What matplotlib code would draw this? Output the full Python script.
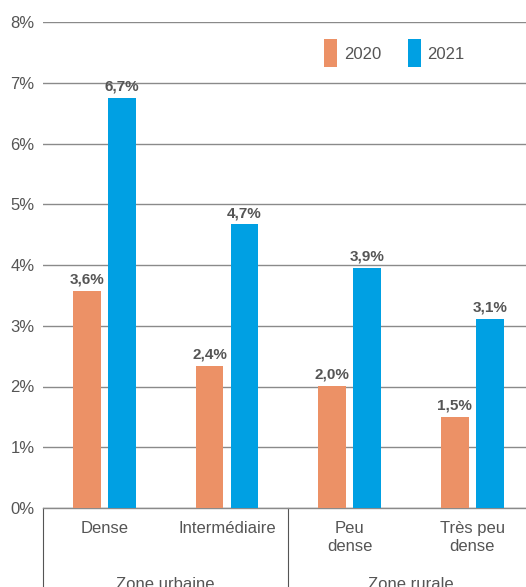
import numpy as np
import matplotlib
matplotlib.use("Agg")
import matplotlib.pyplot as plt
from matplotlib.transforms import blended_transform_factory

plt.rcParams['font.family'] = ['Liberation Sans Narrow', 'Liberation Sans', 'DejaVu Sans']

categories = ["Dense", "Intermédiaire", "Peu\ndense", "Très peu\ndense"]
groups = ["Zone urbaine", "Zone rurale"]
years = ["2020", "2021"]
vals_2020 = [3.57, 2.34, 2.01, 1.50]
vals_2021 = [6.75, 4.67, 3.95, 3.11]
labels_2020 = ["3,6%", "2,4%", "2,0%", "1,5%"]
labels_2021 = ["6,7%", "4,7%", "3,9%", "3,1%"]
yticks = [0, 1, 2, 3, 4, 5, 6, 7, 8]

c2020 = "#ec9166"
c2021 = "#00a0e3"
grey = "#555555"

fig = plt.figure(figsize=(5.26, 5.87), dpi=100)
ax = fig.add_axes([43 / 526, 1 - 508 / 587, 1 - 43 / 526, (508 - 22) / 587])

x = np.arange(len(categories)) + 0.5
w = 0.225
off = 0.143
b1 = ax.bar(x - off, vals_2020, w, color=c2020, label=years[0], zorder=3)
b2 = ax.bar(x + off, vals_2021, w, color=c2021, label=years[1], zorder=3)

for bars, labs in [(b1, labels_2020), (b2, labels_2021)]:
    for b, lab in zip(bars, labs):
        ax.text(b.get_x() + b.get_width() / 2, b.get_height() + 0.07, lab,
                ha="center", va="bottom", fontsize=11, fontweight="bold",
                color=grey, zorder=4)

ax.set_xlim(0, 3.937)
ax.set_ylim(0, 8)
ax.set_yticks(yticks)
ax.set_yticklabels([f"{t}%" for t in yticks])
ax.yaxis.grid(True, color="#8a8a8a", linewidth=1)
ax.set_axisbelow(True)
ax.tick_params(axis="y", length=0, pad=6, labelsize=12, labelcolor=grey)
ax.set_xticks([])
for s in ["top", "right", "left"]:
    ax.spines[s].set_visible(False)
ax.spines["bottom"].set_color("#8a8a8a")
ax.spines["bottom"].set_linewidth(1)

trans = blended_transform_factory(ax.transData, ax.transAxes)
for xi, cat in zip(x, categories):
    ax.text(xi, -0.027, cat, transform=trans, ha="center", va="top",
            fontsize=12, color=grey, linespacing=1.25)
for gx, g in zip([1, 3], groups):
    ax.text(gx, -0.142, g, transform=trans, ha="center", va="top",
            fontsize=12, color=grey)
for vx in [0, 2]:
    ax.plot([vx, vx], [0, -0.2], transform=trans, color="#555555",
            linewidth=0.8, clip_on=False)

ax.legend(loc="upper left", bbox_to_anchor=(0.55, 0.995), ncol=2, frameon=False,
          handlelength=0.8, handleheight=2.2, handletextpad=0.4,
          columnspacing=1.6, fontsize=12, labelcolor=grey)

fig.savefig("out.png", dpi=100)
